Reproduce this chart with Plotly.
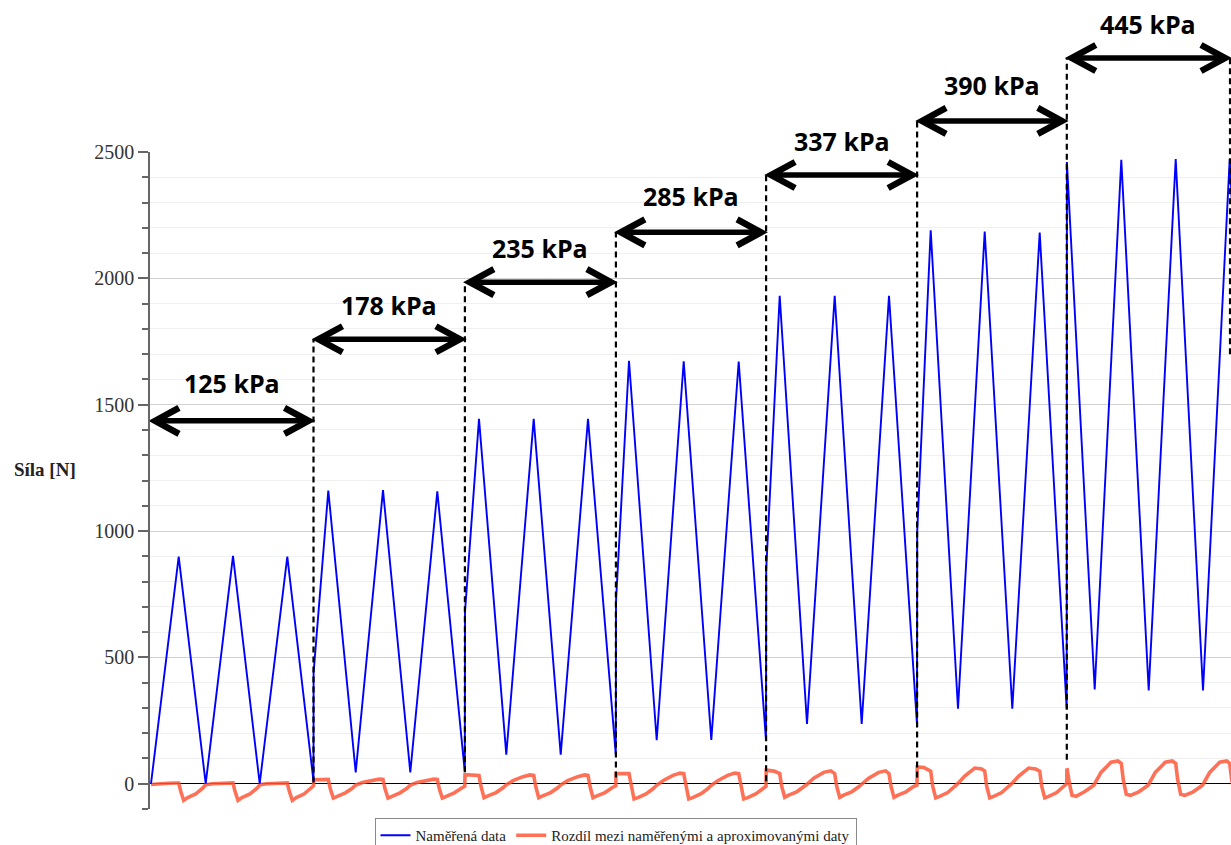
import plotly.graph_objects as go

# ---- measured force (time in s, force in N) ----
meas_t = [
    0.10, 2.87, 5.57, 8.30, 10.97, 13.73, 16.35,
    16.36, 17.83, 20.57, 23.30, 26.03, 28.73, 31.48,
    31.50, 32.90, 35.63, 38.37, 41.07, 43.80, 46.58,
    46.60, 47.90, 50.67, 53.37, 56.13, 58.87, 61.60,
    61.62, 62.97, 65.70, 68.47, 71.17, 73.90, 76.70,
    76.72, 78.07, 80.80, 83.47, 86.23, 88.97, 91.67,
    91.69, 94.47, 97.13, 99.87, 102.57, 105.30, 107.97, 110.67,
]
meas_f = [
    0, 899, 0, 902, 0, 899, 10,
    440, 1160, 45, 1162, 45, 1157, 47,
    680, 1444, 115, 1444, 115, 1444, 115,
    721, 1674, 172, 1672, 173, 1671, 170,
    847, 1931, 237, 1931, 237, 1931, 234,
    998, 2190, 297, 2185, 297, 2181, 297,
    2460, 373, 2469, 369, 2472, 369, 2472, 369,
]

# ---- difference between measured and approximated force ----
diff_t = [
    0.10, 0.80, 1.80, 2.60,
    2.87, 3.07, 3.37, 3.77, 4.57, 5.27, 5.57, 6.27, 7.27, 7.97,
    8.30, 8.50, 8.80, 9.20, 10.00, 10.70, 11.00, 11.70, 12.70, 13.40,
    13.73, 13.93, 14.23, 14.63, 15.43, 16.13, 16.35,
    16.37, 17.00, 17.60,
    17.83, 18.03, 18.33, 18.73, 19.53, 20.23, 20.53, 21.23, 22.23, 22.93,
    23.30, 23.50, 23.80, 24.20, 25.00, 25.70, 26.00, 26.70, 27.70, 28.40,
    28.73, 28.93, 29.23, 29.63, 30.43, 31.13, 31.48,
    31.50, 32.20,
    32.90, 33.10, 33.40, 33.80, 34.60, 35.30, 35.60, 36.30, 37.30, 38.00,
    38.37, 38.57, 38.87, 39.27, 40.07, 40.77, 41.07, 41.77, 42.77, 43.47,
    43.80, 44.00, 44.30, 44.70, 45.50, 46.20, 46.58,
    46.60, 47.30,
    47.90, 48.10, 48.40, 48.80, 49.60, 50.30, 50.60, 51.30, 52.30, 53.00,
    53.37, 53.57, 53.87, 54.27, 55.07, 55.77, 56.07, 56.77, 57.77, 58.47,
    58.87, 59.07, 59.37, 59.77, 60.57, 61.27, 61.60,
    61.62, 62.40,
    62.97, 63.17, 63.47, 63.87, 64.67, 65.37, 65.67, 66.37, 67.37, 68.07,
    68.47, 68.67, 68.97, 69.37, 70.17, 70.87, 71.17, 71.87, 72.87, 73.57,
    73.90, 74.10, 74.40, 74.80, 75.60, 76.30, 76.70,
    76.72, 77.40,
    78.07, 78.27, 78.57, 78.97, 79.77, 80.47, 80.77, 81.47, 82.47, 83.17,
    83.47, 83.67, 83.97, 84.37, 85.17, 85.87, 86.17, 86.87, 87.87, 88.57,
    88.97, 89.17, 89.47, 89.87, 90.67, 91.37, 91.67,
    91.69, 91.72, 91.90, 92.20, 92.60, 93.40, 94.10, 94.40, 95.10, 96.10, 96.80,
    97.13, 97.33, 97.63, 98.03, 98.83, 99.53, 99.83, 100.53, 101.53, 102.23,
    102.57, 102.77, 103.07, 103.47, 104.27, 104.97, 105.27, 105.97, 106.97, 107.67,
    107.97, 108.17, 108.47,
]
diff_f = [
    -3, 0, 2, 3,
    3, -30, -66, -55, -40, -18, -4, 0, 2, 3,
    3, -30, -66, -55, -40, -18, -4, 0, 2, 3,
    3, -30, -66, -55, -40, -16, -8,
    16, 17, 17,
    17, -20, -57, -50, -36, -18, -6, 5, 14, 18,
    17, -20, -57, -50, -36, -18, -6, 5, 14, 18,
    17, -20, -57, -50, -36, -18, -10,
    36, 36,
    33, -10, -55, -48, -35, -16, -5, 12, 28, 35,
    33, -10, -55, -48, -35, -16, -5, 12, 28, 35,
    33, -10, -55, -48, -35, -16, -8,
    40, 40,
    40, 0, -60, -55, -40, -20, -8, 12, 33, 42,
    40, 0, -60, -55, -40, -20, -8, 12, 33, 42,
    40, 0, -60, -55, -40, -20, -10,
    54, 50,
    40, -10, -54, -45, -32, -12, -3, 22, 45, 51,
    40, -10, -54, -45, -32, -12, -3, 22, 45, 51,
    40, -10, -54, -45, -32, -12, -5,
    66, 64,
    50, -10, -56, -50, -35, -10, 0, 30, 62, 58,
    50, -10, -56, -50, -35, -10, 0, 30, 62, 58,
    50, -10, -56, -50, -35, -10, 0,
    60, 58, 10, -46, -50, -33, -14, -5, 45, 85, 90,
    80, 15, -42, -46, -33, -14, -5, 45, 85, 90,
    80, 15, -42, -46, -33, -14, -5, 45, 85, 90,
    80, 15, -42,
]

# ---- pressure stages ----
stage_bounds = [0.0, 16.35, 31.49, 46.59, 61.61, 76.71, 91.68, 108.0]
stage_labels = ["125 kPa", "178 kPa", "235 kPa", "285 kPa", "337 kPa", "390 kPa", "445 kPa"]
arrow_level = [1436, 1759, 1985, 2182, 2409, 2623, 2872]   # N
label_level = [1586, 1895, 2120, 2326, 2543, 2765, 3006]   # N
dash_bottom = [5, 45, 25, 10, 25, 95, 1700]                # N

W, H = 1231, 845
M_L, M_R, M_T, M_B = 150, 0, 152, 36
Y_MIN, Y_MAX = -100, 2500
X_MIN, X_MAX = 0.0, 108.1
plot_h = H - M_T - M_B
plot_w = W - M_L - M_R


def y_paper(v):
    return (v - Y_MIN) / (Y_MAX - Y_MIN)


px_x = (X_MAX - X_MIN) / plot_w   # data units per pixel along x
px_y = 1.0 / plot_h               # paper units per pixel along y

fig = go.Figure()
fig.add_trace(go.Scatter(
    x=diff_t, y=diff_f, mode="lines",
    name="Rozdíl mezi naměřenými a aproximovanými daty",
    line=dict(color="rgba(255,88,58,0.85)", width=3.6),
))
fig.add_trace(go.Scatter(
    x=meas_t, y=meas_f, mode="lines", name="Naměřená data",
    line=dict(color="#0000ff", width=1.9),
))

shapes = []
annotations = []
for i, lab in enumerate(stage_labels):
    a, b = stage_bounds[i], stage_bounds[i + 1]
    y = y_paper(arrow_level[i])
    tip_in = 5 * px_x
    head_dx = 24 * px_x
    head_dy = 13 * px_y
    shapes.append(dict(type="line", xref="x", yref="paper",
                       x0=a + tip_in, x1=b - tip_in, y0=y, y1=y,
                       line=dict(color="black", width=5.5)))
    la, rb = a + tip_in, b - tip_in
    shapes.append(dict(type="path", xref="x", yref="paper",
                       path=f"M {la + head_dx} {y + head_dy} L {la} {y} L {la + head_dx} {y - head_dy}",
                       line=dict(color="black", width=6.5)))
    shapes.append(dict(type="path", xref="x", yref="paper",
                       path=f"M {rb - head_dx} {y + head_dy} L {rb} {y} L {rb - head_dx} {y - head_dy}",
                       line=dict(color="black", width=6.5)))
    annotations.append(dict(
        x=(a + b) / 2, y=y_paper(label_level[i]), xref="x", yref="paper",
        text=f"<b>{lab}</b>", showarrow=False, xanchor="center", yanchor="middle",
        font=dict(family="Open Sans", size=25, color="black"),
    ))
    # dashed separator at the end of each stage
    top = arrow_level[min(i + 1, len(stage_labels) - 1)]
    shapes.append(dict(type="line", xref="x", yref="paper",
                       x0=b, x1=b, y0=y_paper(dash_bottom[i]), y1=y_paper(top),
                       line=dict(color="black", width=2.2, dash="6px,4px")))

annotations.append(dict(
    x=(12 - M_L) / plot_w, y=1242, xref="paper", yref="y",
    text="<b>Síla [N]</b>", showarrow=False, xanchor="left", yanchor="middle",
    font=dict(family="Liberation Serif", size=19, color="#222"),
))

fig.update_layout(
    width=W, height=H,
    margin=dict(l=M_L, r=M_R, t=M_T, b=M_B, pad=0),
    paper_bgcolor="white", plot_bgcolor="white",
    showlegend=True,
    legend=dict(
        orientation="h", xref="container", yref="container",
        x=0.5, xanchor="center", y=(H - 818) / H, yanchor="top",
        bordercolor="#8a8a8a", borderwidth=1, bgcolor="white",
        font=dict(family="Liberation Serif", size=15, color="#222"),
        traceorder="reversed", itemwidth=30,
    ),
    shapes=shapes,
    annotations=annotations,
    xaxis=dict(range=[X_MIN, X_MAX], showticklabels=False, showgrid=False,
               zeroline=False, showline=False, ticks=""),
    yaxis=dict(
        range=[Y_MIN, Y_MAX], tickvals=[0, 500, 1000, 1500, 2000, 2500],
        ticks="outside", ticklen=10, tickwidth=1.5, tickcolor="#666",
        showline=True, linecolor="#666", linewidth=1.5,
        showgrid=True, gridcolor="#d2d2d2", gridwidth=1,
        zeroline=True, zerolinecolor="black", zerolinewidth=1,
        tickfont=dict(family="Liberation Serif", size=20, color="#333"),
        minor=dict(dtick=100, tick0=0, ticks="outside", ticklen=6, tickcolor="#666",
                   showgrid=True, gridcolor="#f0f0f0", gridwidth=1),
    ),
)

fig.write_html("out.html")
